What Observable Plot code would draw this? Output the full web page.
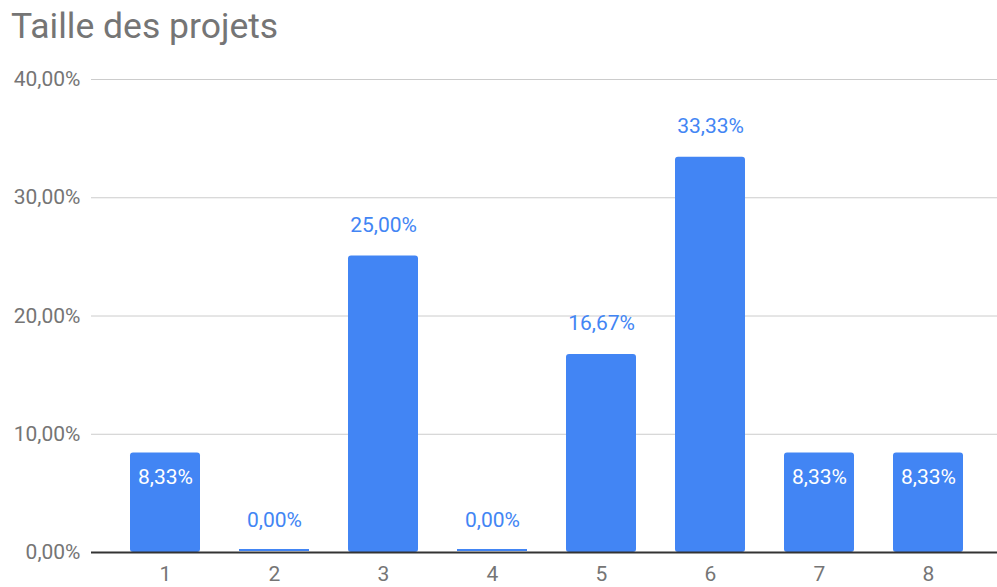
<!DOCTYPE html>
<html>
<head>
<meta charset="utf-8">
<script src="https://cdn.jsdelivr.net/npm/d3@7"></script>
<script src="https://cdn.jsdelivr.net/npm/@observablehq/plot@0.6"></script>
<style>
  html, body { margin: 0; padding: 0; background: #fff; }
  #title { font-family: Roboto, sans-serif; font-size: 35.5px; color: #757575; height: 60px; line-height: 52px; padding-left: 11px; white-space: nowrap; }
  #chart svg { display: block; }
</style>
</head>
<body>
<div id="title">Taille des projets</div>
<div id="chart"></div>
<script>
const categories = ["1", "2", "3", "4", "5", "6", "7", "8"];
const values = [8.33, 0, 25, 0, 16.67, 33.33, 8.33, 8.33];
const yTicks = [0, 10, 20, 30, 40];

const data = categories.map((c, i) => ({cat: c, value: values[i]}));
const fmt = v => v.toFixed(2).replace(".", ",") + "%";
const inside = d => d.value > 0 && d.value < 10;

const plot = Plot.plot({
  width: 997,
  height: 527,
  marginLeft: 91,
  marginRight: 0,
  marginTop: 19,
  marginBottom: 35,
  style: {fontFamily: "Roboto, sans-serif", background: "#fff"},
  x: {domain: categories, paddingInner: 0.36, paddingOuter: 0.18, insetLeft: 17, insetRight: 12, label: null},
  y: {domain: [0, 40], label: null},
  marks: [
    Plot.ruleY(yTicks.filter(t => t > 0), {stroke: "#cccccc", strokeWidth: 1}),
    Plot.barY(data.filter(d => d.value > 0), {x: "cat", y: "value", fill: "#4285f4", rx: 3, insetTop: -1}),
    Plot.ruleY([0], {stroke: "#333333", strokeWidth: 2}),
    Plot.barY(data.filter(d => d.value === 0), {x: "cat", y: "value", fill: "#4285f4", insetTop: -3, insetBottom: 1}),
    Plot.text(data.filter(d => !inside(d)), {x: "cat", y: "value", text: d => fmt(d.value), dy: -32, fill: "#4285f4", fontSize: 21}),
    Plot.text(data.filter(inside), {x: "cat", y: "value", text: d => fmt(d.value), dy: 23, fill: "#ffffff", fontSize: 21}),
    Plot.axisY({ticks: yTicks, tickFormat: fmt, tickSize: 0, tickPadding: 11, fontSize: 21, color: "#757575", label: null}),
    Plot.axisX({tickSize: 0, tickPadding: 14, fontSize: 21, color: "#757575", label: null})
  ]
});
document.getElementById("chart").appendChild(plot);
</script>
</body>
</html>
